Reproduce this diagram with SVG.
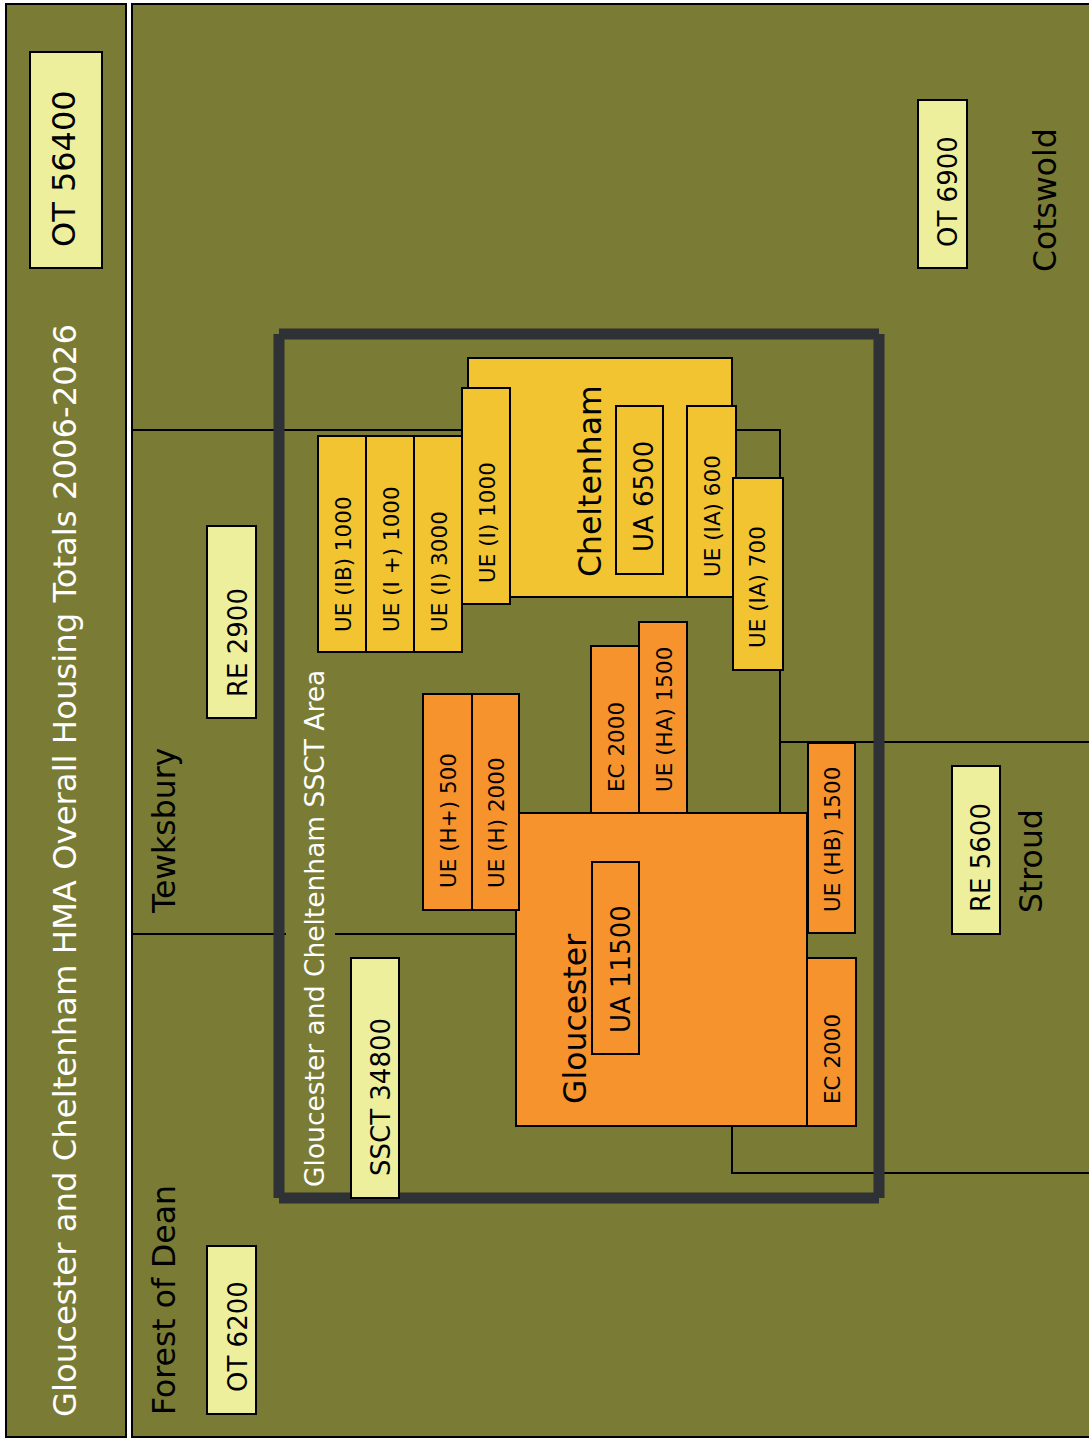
<svg xmlns="http://www.w3.org/2000/svg" width="1089" height="1439" viewBox="0 0 1089 1439">
<style>
  .panel { fill: #7a7b34; stroke: #000; stroke-width: 2; }
  .rl { fill: none; stroke: #000; stroke-width: 2; }
  .frame { fill: none; stroke: #2e3135; stroke-width: 11; stroke-linecap: butt; }
  .lt { fill: #eeef9d; stroke: #000; stroke-width: 2; }
  .ch { fill: #f2c431; stroke: #000; stroke-width: 2; }
  .gl { fill: #f7932c; stroke: #000; stroke-width: 2; }
  text { font-family: "DejaVu Sans", Verdana, sans-serif; fill: #000; }
  .big { font-size: 31.5px; }
  .mid { font-size: 26px; }
  .sm { font-size: 21.5px; }
  .title { font-size: 32.3px; fill: #fff; }
  .area { font-size: 26.5px; fill: #fff; }
</style>
<rect x="0" y="0" width="1089" height="1439" fill="#fff"/>
<g id="left-panel">
  <rect class="panel" x="6" y="4" width="120" height="1433"/>
  <text class="title" transform="translate(76,1417) rotate(-90)">Gloucester and Cheltenham HMA Overall Housing Totals 2006-2026</text>
</g>
<g id="right-panel">
  <rect class="panel" x="132" y="4" width="960" height="1433"/>
</g>
<g id="connectors">
  <path class="rl" d="M132,430 H468"/>
  <path class="rl" d="M732,430 H780 V813"/>
  <path class="rl" d="M780,742 H1090"/>
  <path class="rl" d="M132,934 H517"/>
  <path class="rl" d="M732,1126 V1173 H1090"/>
</g>
<g id="region-labels">
  <text class="big" transform="translate(175,913) rotate(-90)">Tewksbury</text>
  <text class="big" transform="translate(175,1415) rotate(-90)">Forest of Dean</text>
  <text class="big" transform="translate(1056,272) rotate(-90)">Cotswold</text>
  <text class="big" transform="translate(1042,913) rotate(-90)">Stroud</text>
</g>
<g id="ssct-area">
  <path class="frame" d="M279,334 H879"/>
  <path class="frame" d="M879,334 V1198"/>
  <path class="frame" d="M879,1198 H279"/>
  <path class="frame" d="M279,1198 V334"/>
  <rect x="286" y="660" width="49" height="532" fill="#7a7b34"/>
  <text class="area" transform="translate(324,1187) rotate(-90)">Gloucester and Cheltenham SSCT Area</text>
</g>
<g id="ot-56400"><rect class="lt" x="30" y="52" width="72" height="216"/><text style="font-size:32px" transform="translate(75,247) rotate(-90)">OT 56400</text></g>
<g id="ot-6900"><rect class="lt" x="918" y="100" width="49" height="168"/><text class="mid" transform="translate(957,247) rotate(-90)">OT 6900</text></g>
<g id="re-2900"><rect class="lt" x="207" y="526" width="49" height="192"/><text class="mid" transform="translate(247,697) rotate(-90)">RE 2900</text></g>
<g id="re-5600"><rect class="lt" x="952" y="766" width="48" height="168"/><text class="mid" transform="translate(990,912) rotate(-90)">RE 5600</text></g>
<g id="ot-6200"><rect class="lt" x="207" y="1246" width="49" height="168"/><text class="mid" transform="translate(247,1392) rotate(-90)">OT 6200</text></g>
<g id="ssct-34800"><rect class="lt" x="351" y="958" width="48" height="240"/><text class="mid" transform="translate(390,1176) rotate(-90)">SSCT 34800</text></g>
<g id="cheltenham"><rect class="ch" x="468" y="358" width="264" height="239"/><text class="big" transform="translate(601,577) rotate(-90)">Cheltenham</text></g>
<g id="ua-6500"><rect class="ch" x="616" y="406" width="47" height="168"/><text class="mid" transform="translate(653,552) rotate(-90)">UA 6500</text></g>
<g id="ue-i-1000-b"><rect class="ch" x="462" y="388" width="48" height="216"/><text class="sm" transform="translate(495,583) rotate(-90)">UE (I) 1000</text></g>
<g id="ue-ib-1000"><rect class="ch" x="318" y="436" width="48" height="216"/><text class="sm" transform="translate(351,632) rotate(-90)">UE (IB) 1000</text></g>
<g id="ue-iplus-1000"><rect class="ch" x="366" y="436" width="48" height="216"/><text class="sm" transform="translate(399,632) rotate(-90)">UE (I +) 1000</text></g>
<g id="ue-i-3000"><rect class="ch" x="414" y="436" width="48" height="216"/><text class="sm" transform="translate(447,632) rotate(-90)">UE (I) 3000</text></g>
<g id="ue-ia-600"><rect class="ch" x="687" y="406" width="49" height="191"/><text class="sm" transform="translate(720,577) rotate(-90)">UE (IA) 600</text></g>
<g id="ue-ia-700"><rect class="ch" x="733" y="478" width="50" height="192"/><text class="sm" transform="translate(765,648) rotate(-90)">UE (IA) 700</text></g>
<g id="gloucester"><rect class="gl" x="516" y="813" width="291" height="313"/><text class="big" transform="translate(586,1104) rotate(-90)">Gloucester</text></g>
<g id="ua-11500"><rect class="gl" x="592" y="862" width="47" height="192"/><text class="mid" transform="translate(630,1033) rotate(-90)">UA 11500</text></g>
<g id="ue-hplus-500"><rect class="gl" x="423" y="694" width="49" height="216"/><text class="sm" transform="translate(456,888) rotate(-90)">UE (H+) 500</text></g>
<g id="ue-h-2000"><rect class="gl" x="472" y="694" width="47" height="216"/><text class="sm" transform="translate(504,888) rotate(-90)">UE (H) 2000</text></g>
<g id="ec-2000-a"><rect class="gl" x="591" y="646" width="48" height="167"/><text class="sm" transform="translate(624,792) rotate(-90)">EC 2000</text></g>
<g id="ue-ha-1500"><rect class="gl" x="639" y="622" width="48" height="191"/><text class="sm" transform="translate(672,792) rotate(-90)">UE (HA) 1500</text></g>
<g id="ue-hb-1500"><rect class="gl" x="808" y="743" width="47" height="190"/><text class="sm" transform="translate(840,912) rotate(-90)">UE (HB) 1500</text></g>
<g id="ec-2000-b"><rect class="gl" x="807" y="958" width="49" height="168"/><text class="sm" transform="translate(840,1104) rotate(-90)">EC 2000</text></g>
</svg>
